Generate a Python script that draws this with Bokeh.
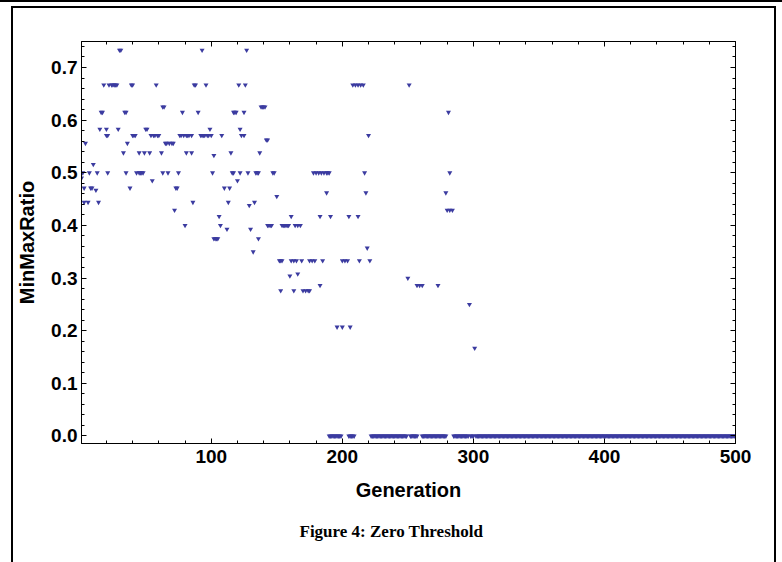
from bokeh.plotting import figure
from bokeh.models import (Range1d, FixedTicker, LinearAxis, PrintfTickFormatter,
                          Title, ColumnDataSource)
from bokeh.embed import file_html
from bokeh.resources import INLINE

# ---- data (generation, MinMaxRatio) ----
generation = [
    1, 2, 3, 3, 4, 6, 7, 8, 9, 10, 12, 13, 14, 15, 16, 17, 18, 20, 20, 21, 21,
    22, 24, 25, 26, 27, 28, 29, 30, 31, 33, 34, 35, 35, 36, 38, 39, 40, 40, 41,
    42, 43, 45, 45, 46, 47, 48, 49, 50, 51, 53, 54, 55, 56, 57, 58, 59, 60, 62,
    63, 63, 64, 65, 66, 67, 68, 70, 71, 72, 73, 74, 75, 76, 77, 78, 79, 80, 81,
    81, 82, 83, 85, 85, 86, 87, 88, 90, 92, 93, 93, 94, 95, 96, 97, 98, 99, 100,
    101, 102, 102, 103, 104, 105, 106, 107, 108, 110, 112, 113, 114, 115, 116,
    117, 117, 118, 119, 120, 121, 122, 122, 123, 125, 125, 126, 127, 128, 129,
    130, 132, 133, 134, 135, 136, 136, 137, 138, 139, 140, 141, 142, 143, 143,
    144, 145, 146, 147, 148, 150, 152, 153, 153, 154, 154, 155, 156, 157, 158,
    159, 160, 161, 161, 163, 163, 164, 165, 166, 166, 168, 169, 170, 172, 174,
    175, 175, 177, 178, 179, 180, 182, 183, 183, 184, 185, 186, 188, 188, 189,
    190, 191, 196, 200, 200, 202, 204, 205, 206, 208, 210, 212, 212, 213, 214,
    216, 217, 218, 219, 220, 221, 250, 251, 257, 259, 261, 273, 279, 280, 281,
    282, 282, 284, 297, 301,
]
ratio = [
    0.49, 0.5, 0.471, 0.444, 0.556, 0.444, 0.5, 0.471, 0.471, 0.516, 0.467, 0.5,
    0.444, 0.583, 0.615, 0.615, 0.667, 0.583, 0.571, 0.571, 0.5,
    0.667, 0.667, 0.667, 0.667, 0.667, 0.667, 0.583, 0.733, 0.733, 0.538, 0.615,
    0.615, 0.5, 0.556, 0.471, 0.667, 0.667, 0.571, 0.571,
    0.571, 0.5, 0.538, 0.5, 0.5, 0.5, 0.5, 0.538, 0.583, 0.583, 0.538, 0.571,
    0.485, 0.571, 0.571, 0.667, 0.571, 0.571, 0.538,
    0.5, 0.625, 0.625, 0.556, 0.556, 0.5, 0.556, 0.556, 0.556, 0.429, 0.471,
    0.471, 0.5, 0.571, 0.571, 0.615, 0.571, 0.4, 0.571,
    0.538, 0.571, 0.571, 0.538, 0.571, 0.444, 0.667, 0.667, 0.615, 0.571, 0.733,
    0.571, 0.571, 0.571, 0.667, 0.571, 0.571, 0.583, 0.571,
    0.5, 0.533, 0.375, 0.375, 0.375, 0.375, 0.417, 0.4, 0.571, 0.471, 0.393,
    0.444, 0.471, 0.538, 0.5,
    0.5, 0.615, 0.615, 0.615, 0.485, 0.667, 0.583, 0.5, 0.571, 0.571, 0.615,
    0.667, 0.733, 0.5, 0.438,
    0.393, 0.35, 0.444, 0.5, 0.5, 0.375, 0.5, 0.538, 0.625, 0.625, 0.625, 0.625,
    0.5625, 0.5625, 0.4,
    0.4, 0.4, 0.4, 0.5, 0.5, 0.455, 0.333, 0.333, 0.276, 0.333, 0.4, 0.4, 0.4,
    0.4, 0.4,
    0.4, 0.304, 0.417, 0.333, 0.333, 0.276, 0.4, 0.333, 0.4, 0.308, 0.4, 0.333,
    0.276, 0.276, 0.276,
    0.276, 0.333, 0.333, 0.5, 0.333, 0.5, 0.5, 0.417, 0.286, 0.5, 0.333, 0.5,
    0.5, 0.462, 0.5,
    0.5, 0.417, 0.207, 0.207, 0.333, 0.333, 0.333, 0.417, 0.207, 0.667, 0.667,
    0.667, 0.417, 0.333, 0.667,
    0.667, 0.5, 0.462, 0.357, 0.571, 0.333, 0.3, 0.667, 0.286, 0.286, 0.286,
    0.286, 0.462, 0.429, 0.615,
    0.429, 0.5, 0.429, 0.25, 0.167,
]
# runs of generations whose ratio is 0.0 (first, last)
zero_runs = [(190, 199), (205, 209), (222, 249), (252, 257), (261, 279), (285, 296),
             (298, 300), (302, 500)]

y_ticks = [0.0, 0.1, 0.2, 0.3, 0.4, 0.5, 0.6, 0.7]
x_ticks = [100, 200, 300, 400, 500]

zero_gen = [g for a, b in zero_runs for g in range(a, b + 1)]
all_gen = generation + zero_gen
all_ratio = ratio + [0.0] * len(zero_gen)

src = ColumnDataSource(data=dict(g=all_gen, r=all_ratio))

p = figure(width=782, height=562, output_backend="svg", toolbar_location=None,
           x_range=Range1d(1, 500), y_range=Range1d(-0.01425, 0.7494),
           min_border_left=81, min_border_right=47, min_border_top=41,
           min_border_bottom=119, x_axis_label="Generation",
           y_axis_label="MinMaxRatio")
p.grid.visible = False
p.outline_line_color = "black"
p.outline_line_width = 1
p.background_fill_color = "white"
p.border_fill_color = "white"

p.scatter("g", "r", source=src, marker="inverted_triangle", size=5,
          fill_color="#3b3ba0", line_color=None)

x_minor = list(range(20, 501, 20))
y_minor = [i / 50 for i in range(0, 38)]
xt = FixedTicker(ticks=x_ticks, minor_ticks=x_minor)
yt = FixedTicker(ticks=y_ticks, minor_ticks=y_minor)

def style(ax, ticker, show):
    ax.ticker = ticker
    ax.major_tick_in = 5
    ax.major_tick_out = 0
    ax.minor_tick_in = 3
    ax.minor_tick_out = 0
    ax.axis_line_color = "black"
    ax.major_tick_line_color = "black"
    ax.minor_tick_line_color = "black"
    ax.major_label_text_font = "Liberation Sans"
    ax.major_label_text_font_style = "bold"
    ax.major_label_text_font_size = "19px"
    ax.major_label_text_color = "black" if show else None
    ax.axis_label_text_font = "Liberation Sans"
    ax.axis_label_text_font_style = "bold"
    ax.axis_label_text_font_size = "20px"
    ax.axis_label_text_color = "black"

xa = p.xaxis[0]
ya = p.yaxis[0]
style(xa, xt, True)
style(ya, yt, True)
ya.formatter = PrintfTickFormatter(format="%.1f")
xa.major_label_standoff = 6
xa.axis_label_standoff = 13
ya.major_label_standoff = 4
ya.axis_label_standoff = 10

top = LinearAxis()
style(top, xt, False)
p.add_layout(top, "above")
right = LinearAxis()
style(right, yt, False)
p.add_layout(right, "right")

cap = Title(text="Figure 4: Zero Threshold", align="left",
            text_font="Liberation Serif", text_font_style="bold",
            text_font_size="17px", text_color="black", offset=218, standoff=32)
p.add_layout(cap, "below")

html = file_html(p, INLINE)
frame_css = (
    '<div style="position:fixed;left:0px;top:0px;width:782px;height:2px;'
    'background:#000;pointer-events:none;z-index:10"></div>'
    '<div style="position:fixed;left:11px;top:6px;width:761px;height:620px;'
    'border:2px solid #000;box-sizing:content-box;pointer-events:none;'
    'z-index:10"></div>'
)
html = html.replace("</body>", frame_css + "</body>")
open("out.html", "w").write(html)
